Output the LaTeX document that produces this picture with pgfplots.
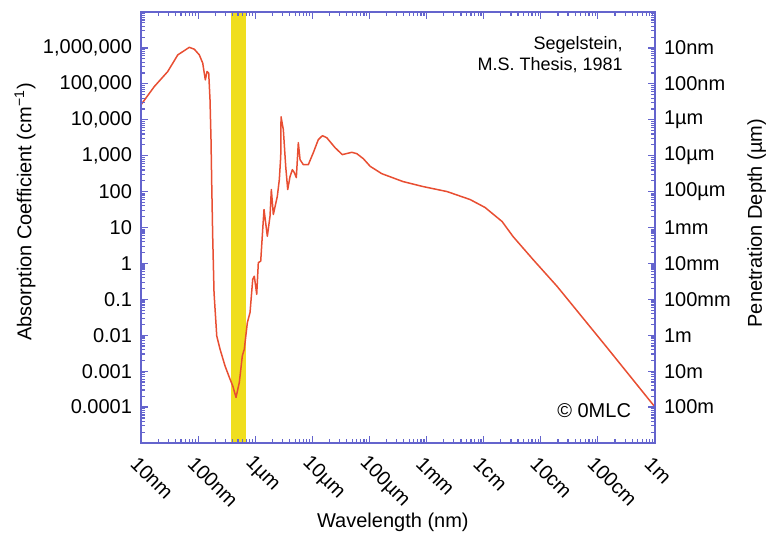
\documentclass[border=0pt]{standalone}
\usepackage{fontspec}
\setmainfont{Liberation Sans}
\usepackage{pgfplots}
\pgfplotsset{compat=1.18}
\definecolor{framecol}{RGB}{100,100,205}
\definecolor{curvecol}{RGB}{232,78,50}
\definecolor{bandcol}{RGB}{240,222,30}
\pgfplotstableread{
x y
10 2.61e4
17.1 8.4e4
29.4 2.2e5
44.0 6.4e5
57.3 8.4e5
70.1 1.04e6
85.7 9.2e5
105 6.4e5
120.5 3.76e5
133.7 1.29e5
143.2 2.2e5
153.4 1.98e5
161.6 3.6e4
168.2 2.8e3
173 175
180 5.7
190 0.153
212 0.0096
242 0.0041
296 0.0014
362 6.0e-4
404 3.9e-4
461 1.86e-4
527 4.9e-4
595 2.7e-3
644 4.1e-3
728 0.0225
811 0.043
904 0.36
964 0.44
1062 0.138
1133 1.05
1248 1.16
1352 8.8
1425 31.6
1630 5.7
1816 20.6
1915 114
2075 23
2438 74
2642 215
2797 957
2831 1.21e4
3106 5.3e3
3420 494
3707 114
4066 261
4463 408
4838 337
5244 245
5685 2.3e3
6093 774
6953 562
8505 562
1.04e4 1.21e3
1.27e4 2.78e3
1.50e4 3.6e3
1.79e4 3.16e3
2.50e4 1.67e3
3.35e4 1.07e3
4.9e4 1.24e3
6.0e4 1.14e3
7.8e4 826
1.03e5 505
1.64e5 316
3.87e5 190
8.7e5 138
2.29e6 100
5.8e6 60
1.06e7 36
2.1e7 14.7
3.27e7 5.6
7.3e7 1.29
1.93e8 0.23
1.39e9 4.9e-3
1e10 1e-4
}\water
\begin{document}
\begin{tikzpicture}
\begin{axis}[name=ax, scale only axis, width=257pt, height=215.5pt,
  xmode=log, ymode=log, xmin=10, xmax=1e10, ymin=1e-5, ymax=1e7,
  axis on top, tick align=inside, tick pos=both,
  xticklabel pos=lower, yticklabel pos=left,
  xtick={1e1,1e2,1e3,1e4,1e5,1e6,1e7,1e8,1e9,1e10},
  xticklabels={10nm,100nm,1µm,10µm,100µm,1mm,1cm,10cm,100cm,1m},
  ytick={1e-5,1e-4,1e-3,1e-2,1e-1,1,1e1,1e2,1e3,1e4,1e5,1e6,1e7},
  yticklabels={{},{0.0001},{0.001},{0.01},{0.1},{1},{10},{100},{1,000},{10,000},{100,000},{1,000,000},{}},
  axis line style={draw=framecol, line width=1pt},
  every tick/.style={draw=framecol, line width=0.6pt},
  major tick length=3.5pt, minor tick length=2pt,
  tick label style={font=\fontsize{10}{12}\selectfont, text=black},
  xticklabel style={xshift=-3.5pt, yshift=-8.5pt, rotate=-45, anchor=west, inner sep=0pt},
  yticklabel style={xshift=-1pt},
  label style={font=\fontsize{10}{12}\selectfont},
  xlabel={Wavelength (nm)},
  ylabel={Absorption Coefficient (cm\textsuperscript{−1})},
  every axis x label/.style={at={(axis description cs:0.49,-0.183)}, anchor=center},
  every axis y label/.style={at={(axis description cs:-0.2257,0.536)}, rotate=90, anchor=center},
]
\addplot[fill=bandcol, draw=none] coordinates {(380,1e-5) (380,1e7) (700,1e7) (700,1e-5)} -- cycle;
\addplot[color=curvecol, line width=0.75pt, line join=round] table[x=x, y=y] {\water};
\node[anchor=base east, font=\fontsize{9}{11}\selectfont] at (axis description cs:0.951,0.914) {Segelstein,};
\node[anchor=base east, font=\fontsize{9}{11}\selectfont] at (axis description cs:0.951,0.865) {M.S. Thesis, 1981};
\node[anchor=base east, font=\fontsize{10}{12}\selectfont] at (axis description cs:0.967,0.060) {© 0MLC};
\end{axis}
\begin{axis}[scale only axis, width=257pt, height=215.5pt,
  xmode=log, ymode=log, xmin=10, xmax=1e10, ymin=1e-5, ymax=1e7,
  axis y line*=right, axis x line=none,
  y axis line style={draw=none},
  ytick={1e6,1e5,1e4,1e3,1e2,1e1,1,1e-1,1e-2,1e-3,1e-4},
  yticklabels={10nm,100nm,1µm,10µm,100µm,1mm,10mm,100mm,1m,10m,100m},
  major tick length=0pt, yminorticks=false,
  tick label style={font=\fontsize{10}{12}\selectfont},
  yticklabel style={xshift=1pt},
  ylabel={Penetration Depth (µm)},
  every axis y label/.style={at={(axis description cs:1.198,0.51)}, rotate=90, anchor=center, font=\fontsize{10}{12}\selectfont},
]
\end{axis}
\pgfresetboundingbox
\path ([shift={(-70.5pt,-46.5pt)}]ax.south west) rectangle ([shift={(56.5pt,6pt)}]ax.north east);
\end{tikzpicture}
\end{document}
